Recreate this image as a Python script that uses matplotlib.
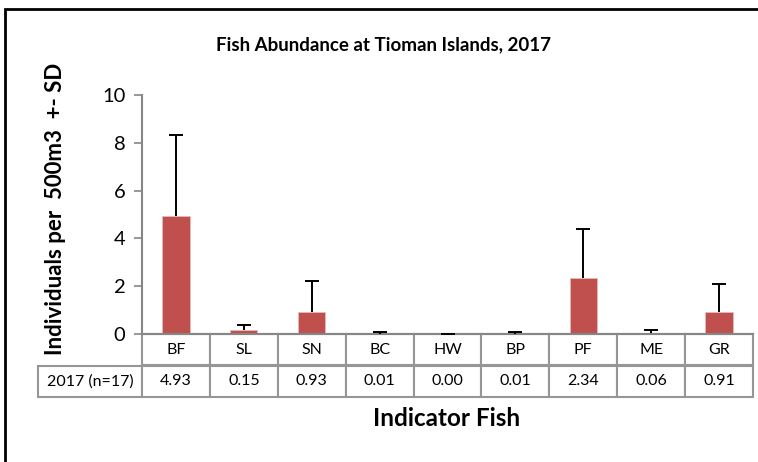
import matplotlib.pyplot as plt
from matplotlib.patches import Rectangle

# Data
species = ['BF', 'SL', 'SN', 'BC', 'HW', 'BP', 'PF', 'ME', 'GR']
mean_2017 = [4.93, 0.15, 0.93, 0.01, 0.00, 0.01, 2.34, 0.06, 0.91]
sd_2017 = [3.40, 0.23, 1.30, 0.06, 0.00, 0.06, 2.06, 0.10, 1.20]
row_label = '2017 (n=17)'

plt.rcParams['font.family'] = ['Lato', 'DejaVu Sans']

fig = plt.figure(figsize=(7.58, 4.62), dpi=100)
ax = fig.add_axes([142 / 758, 1 - 334 / 462, 611 / 758, 239 / 462])

x = range(len(species))
ax.bar(x, mean_2017, width=0.4, color='#c0504d', edgecolor='#e6b9b8', linewidth=0.6,
       zorder=2)
eb = ax.errorbar(x, mean_2017, yerr=[[0] * len(sd_2017), sd_2017], fmt='none',
                 ecolor='black', elinewidth=1.4, capsize=5, capthick=1.4, zorder=3)
# only the upper cap is shown
eb[1][0].set_visible(False)

ax.set_xlim(-0.5, len(species) - 0.5)
ax.set_ylim(0, 10)
ax.set_yticks([0, 2, 4, 6, 8, 10])
ax.tick_params(axis='y', labelsize=14.5, length=6, width=1.2, color='#868686', pad=6)
ax.set_xticks([])
for side in ['top', 'right']:
    ax.spines[side].set_visible(False)
for side in ['left', 'bottom']:
    ax.spines[side].set_color('#868686')
    ax.spines[side].set_linewidth(1.5)

# data table under the axis
tbl = ax.table(cellText=[['%.2f' % v for v in mean_2017]], rowLabels=[row_label],
               colLabels=species, cellLoc='center', rowLoc='center',
               bbox=[0, -63 / 239, 1, 63 / 239])
tbl.auto_set_font_size(False)
tbl.set_fontsize(11.5)
tbl._autoColumns.clear()
tbl[1, -1].set_width(104 / 611)
for cell in tbl.get_celld().values():
    cell.set_edgecolor('#969696')
    cell.set_linewidth(1.5)

fig.text(383 / 758, 1 - 45 / 462, 'Fish Abundance at Tioman Islands, 2017',
         ha='center', va='center', fontsize=13.5, fontweight='bold')
fig.text(56 / 758, 1 - 209 / 462, 'Individuals per  500m3  +- SD', rotation=90,
         ha='center', va='center', fontsize=16, fontweight='bold')
fig.text(447 / 758, 1 - 418 / 462, 'Indicator Fish', ha='center', va='center',
         fontsize=17.5, fontweight='bold')

# outer chart frame (cut off at right and bottom)
fig.patches.append(Rectangle((5 / 758, -0.1), 1.2, 1 - 9 / 462 + 0.1,
                             transform=fig.transFigure, fill=False,
                             edgecolor='black', linewidth=2))

fig.savefig('out.png', dpi=100)
